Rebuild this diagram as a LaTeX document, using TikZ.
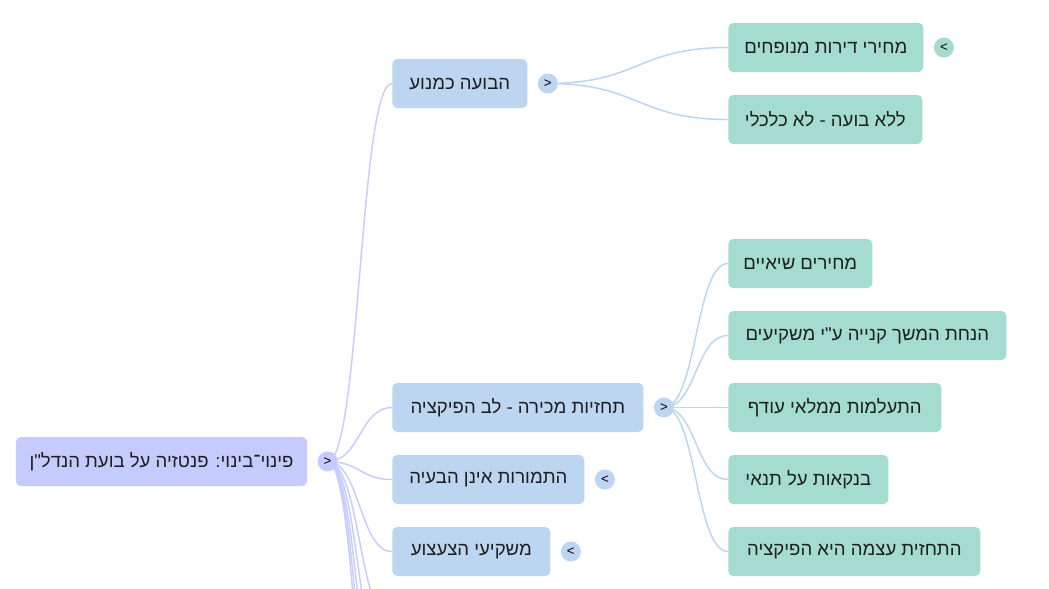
\documentclass[tikz,border=0pt]{standalone}
\usepackage{fontspec}
\setmainfont{Liberation Sans}
\newfontfamily\hebfont[Script=Hebrew]{Liberation Sans}
\TeXXeTstate=1
\usetikzlibrary{positioning,backgrounds}

\definecolor{rootfill}{RGB}{197,203,253}
\definecolor{onefill}{RGB}{188,213,240}
\definecolor{twofill}{RGB}{164,221,208}
\definecolor{rootline}{RGB}{200,205,255}
\definecolor{inktext}{RGB}{30,30,30}

\tikzset{
 box/.style={rounded corners=3.5pt, minimum height=1.225cm, inner sep=0pt, text=inktext, font=\hebfont\fontsize{13.2}{15}\selectfont},
 rootbox/.style={box, fill=rootfill},
 onebox/.style={box, fill=onefill, anchor=west},
 twobox/.style={box, fill=twofill, anchor=west},
 tog/.style={circle, minimum size=0.5cm, inner sep=0pt, text=black, font=\fontsize{9.5}{10}\selectfont},
 rootedge/.style={draw=rootline, line width=1.05pt},
 oneedge/.style={draw=onefill, line width=1.05pt}
}

\begin{document}
\begin{tikzpicture}[x=0.025cm, y=-0.025cm]
 \useasboundingbox (0,0) rectangle (1049,588); %画面の枠
 \node[rootbox, minimum width=7.275cm] (rt) at (161.5,461.5) {\beginR פינוי־בינוי: פנטזיה על בועת הנדל"ן\endR}; %根
 \node[tog, fill=rootfill, right=0.25cm of rt] (rtt) {>}; %根の開閉
 \node[onebox, minimum width=3.375cm] (a1) at (392,83.5) {\beginR הבועה כמנוע\endR}; %枝1
 \node[onebox, minimum width=6.275cm] (a2) at (392,407.5) {\beginR תחזיות מכירה - לב הפיקציה\endR}; %枝2
 \node[onebox, minimum width=4.8cm] (a3) at (392,479.5) {\beginR התמורות אינן הבעיה\endR}; %枝3
 \node[onebox, minimum width=3.95cm] (a4) at (392,551.5) {\beginR משקיעי הצעצוע\endR}; %枝4
 \coordinate (a5) at (392,623); %画面外の枝
 \coordinate (a6) at (392,695);
 \coordinate (a7) at (392,767);
 \coordinate (a8) at (392,839);
 \coordinate (a9) at (392,911);
 \node[tog, fill=onefill, right=0.25cm of a1] (a1t) {>};
 \node[tog, fill=onefill, right=0.25cm of a2] (a2t) {>};
 \node[tog, fill=onefill, right=0.25cm of a3] (a3t) {<};
 \node[tog, fill=onefill, right=0.25cm of a4] (a4t) {<};
 \node[twobox, minimum width=4.875cm] (b1) at (728,47.5) {\beginR מחירי דירות מנופחים\endR}; %葉
 \node[twobox, minimum width=4.85cm] (b2) at (728,119.5) {\beginR ללא בועה - לא כלכלי\endR};
 \node[tog, fill=twofill, right=0.25cm of b1] (b1t) {<};
 \node[twobox, minimum width=3.6cm] (c1) at (728,263.5) {\beginR מחירים שיאיים\endR};
 \node[twobox, minimum width=6.95cm] (c2) at (728,335.5) {\beginR הנחת המשך קנייה ע"י משקיעים\endR};
 \node[twobox, minimum width=5.325cm] (c3) at (728,407.5) {\beginR התעלמות ממלאי עודף\endR};
 \node[twobox, minimum width=4cm] (c4) at (728,479.5) {\beginR בנקאות על תנאי\endR};
 \node[twobox, minimum width=6.3cm] (c5) at (728,551.5) {\beginR התחזית עצמה היא הפיקציה\endR};
 \begin{pgfonlayer}{background}
 \foreach \n in {a1,a2,a3,a4}
  \draw[rootedge] (rtt.center) .. controls +(32.5,0) and +(-32.5,0) .. (\n.west); %根から枝
 \foreach \n in {a5,a6,a7,a8,a9}
  \draw[rootedge] (rtt.center) .. controls +(32.5,0) and +(-32.5,0) .. (\n);
 \foreach \n in {b1,b2}
  \draw[oneedge] (a1t.center) .. controls +(90.5,0) and +(-90.5,0) .. (\n.west); %枝から葉
 \foreach \n in {c1,c2,c3,c4,c5}
  \draw[oneedge] (a2t.center) .. controls +(33,0) and +(-33,0) .. (\n.west);
 \end{pgfonlayer}
\end{tikzpicture}
\end{document}
